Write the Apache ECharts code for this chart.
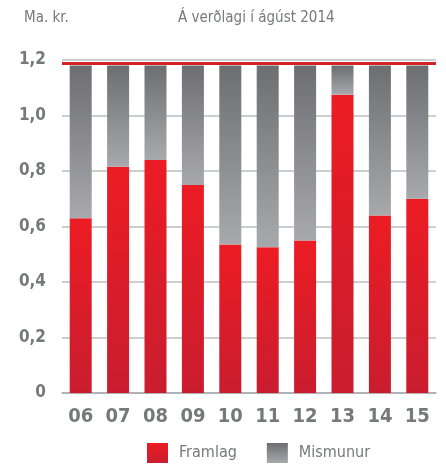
<!DOCTYPE html>
<html>
<head>
<meta charset="utf-8">
<script src="https://cdn.jsdelivr.net/npm/echarts@6/dist/echarts.min.js"></script>
<style>
  html, body { margin: 0; padding: 0; background: #fff; }
  #chart { width: 446px; height: 466px; }
</style>
</head>
<body>
<div id="chart"></div>
<script>
// gögn lesin af myndinni
const years = ['06', '07', '08', '09', '10', '11', '12', '13', '14', '15']
const framlag = [0.63, 0.815, 0.84, 0.75, 0.535, 0.525, 0.55, 1.075, 0.64, 0.70]
const mismunur = [0.55, 0.365, 0.34, 0.43, 0.645, 0.655, 0.63, 0.105, 0.54, 0.48]
const yTickLabels = ['0', '0,2', '0,4', '0,6', '0,8', '1,0', '1,2']
const redLineValue = 1.19

const font = '"Liberation Sans Narrow", "DejaVu Sans Condensed", "Roboto", sans-serif'
const textGray = '#77787b'

const redFill = new echarts.graphic.LinearGradient(0, 0, 0, 1, [
  { offset: 0, color: '#ec1c24' },
  { offset: 1, color: '#c91d2f' }
])
const grayFill = new echarts.graphic.LinearGradient(0, 0, 0, 1, [
  { offset: 0, color: '#6d6e71' },
  { offset: 1, color: '#a7a9ac' }
])

const myChart = echarts.init(document.getElementById('chart'))
myChart.setOption({
  animation: false,
  textStyle: { fontFamily: font },
  title: [
    {
      text: 'Ma. kr.',
      left: 19, top: 6,
      textStyle: { fontFamily: font, fontSize: 15, fontWeight: 'normal', color: textGray }
    },
    {
      text: 'Á verðlagi í ágúst 2014',
      left: 173, top: 6,
      textStyle: { fontFamily: font, fontSize: 15, fontWeight: 'normal', color: textGray }
    }
  ],
  grid: { left: 62, right: 10, top: 60, bottom: 73 },
  legend: {
    bottom: 3,
    left: 147,
    padding: 0,
    icon: 'rect',
    itemWidth: 21,
    itemHeight: 20,
    itemGap: 30,
    textStyle: { fontFamily: font, fontSize: 16, color: textGray, padding: [0, 0, 0, 6] },
    data: [
      { name: 'Framlag', itemStyle: { color: redFill } },
      { name: 'Mismunur', itemStyle: { color: grayFill } }
    ]
  },
  xAxis: {
    type: 'category',
    data: years,
    axisLine: { lineStyle: { color: '#a7a9ac', width: 1.5 } },
    axisTick: { show: false },
    axisLabel: { fontFamily: font, fontSize: 20, fontWeight: 'bold', color: textGray, margin: 14 }
  },
  yAxis: {
    type: 'value',
    min: 0,
    max: 1.2,
    interval: 0.2,
    axisLine: { show: false },
    axisTick: { show: false },
    splitLine: { lineStyle: { color: '#bcbec0', width: 1.5 } },
    axisLabel: {
      fontFamily: font, fontSize: 17, color: textGray, margin: 16, fontWeight: 'bold',
      formatter: v => yTickLabels[Math.round(v / 0.2)]
    }
  },
  series: [
    {
      name: 'Framlag',
      type: 'bar',
      stack: 'total',
      barWidth: 22,
      data: framlag,
      itemStyle: { color: redFill }
    },
    {
      name: 'Mismunur',
      type: 'bar',
      stack: 'total',
      barWidth: 22,
      data: mismunur,
      itemStyle: { color: grayFill },
      markLine: {
        silent: true,
        symbol: 'none',
        label: { show: false },
        lineStyle: { color: '#d2232a', width: 3, type: 'solid' },
        data: [{ yAxis: redLineValue }]
      }
    }
  ]
})
</script>
</body>
</html>
